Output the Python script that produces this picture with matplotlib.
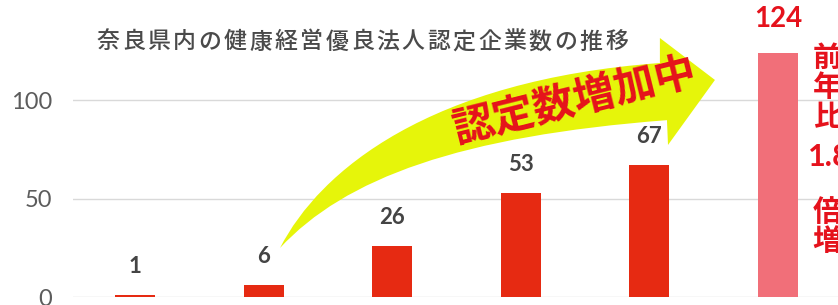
"""Nara prefecture: number of certified health-management companies."""

import numpy as np
import matplotlib.pyplot as plt
from matplotlib.patches import PathPatch
from matplotlib.path import Path

import matplotlib as mpl
mpl.use('Agg')

# =============================================================================
# Data
years = ["1", "2", "3", "4", "5", "6"]
counts = [1, 6, 26, 53, 67, 124]
bar_colors = ["#e62a12"] * 5 + ["#f16f79"]

title = "奈良県内の健康経営優良法人認定企業数の推移"
yticks = [0, 50, 100]

CJK = ['Noto Sans CJK JP', 'DejaVu Sans']
NUM = ['Lato', 'DejaVu Sans']
RED = "#e5121c"

# =============================================================================
fig = plt.figure(figsize=(8.38, 3.05), dpi=100)
ax = fig.add_axes([73 / 838, 8 / 305, 1 - 73 / 838, 297 / 305])

x = np.arange(len(counts))
bars = ax.bar(x, counts, width=0.31, color=bar_colors, zorder=3)

ax.set_xlim(-0.482, 5.467)
ax.set_ylim(0, 150.8)
ax.set_yticks(yticks)
ax.set_yticklabels([str(t) for t in yticks], family=NUM, fontsize=17,
                   fontweight='normal', color="#5c5c5c")
ax.tick_params(axis='y', length=0, pad=15)
ax.set_xticks([])
for s in ax.spines.values():
    s.set_visible(False)
ax.yaxis.grid(True, color="#d9d9d9", lw=1.0, zorder=1)
ax.set_axisbelow(True)

# value labels
for rect, v in zip(bars[:-1], counts[:-1]):
    ax.annotate(str(v), (rect.get_x() + rect.get_width() / 2, v),
                xytext=(0, 13), textcoords='offset points', ha='center',
                va='bottom', family=NUM, fontsize=16, fontweight='bold',
                color="#444444")
last = bars[-1]
ax.annotate(str(counts[-1]), (last.get_x() + last.get_width() / 2, counts[-1]),
            xytext=(0, 15), textcoords='offset points', ha='center',
            va='bottom', family=NUM, fontsize=20, fontweight='bold', color=RED)

# curved yellow arrow (bezier edges, in data units)
verts = [(1.128, 24.9), (1.439, 64.5), (2.294, 110.2), (4.082, 118.8),
         (4.082, 131.5), (4.510, 110.2), (4.145, 77.2), (4.137, 89.8),
         (2.527, 81.7), (1.633, 60.4), (1.128, 24.9), (1.128, 24.9)]
codes = [Path.MOVETO, Path.CURVE4, Path.CURVE4, Path.CURVE4,
         Path.LINETO, Path.LINETO, Path.LINETO, Path.LINETO,
         Path.CURVE4, Path.CURVE4, Path.CURVE4, Path.CLOSEPOLY]
ax.add_patch(PathPatch(Path(verts, codes), facecolor="#e6f50a",
                       edgecolor='none', zorder=2))
ax.text(3.42, 99.5, "認定数増加中", family=CJK, fontsize=30, fontweight='bold',
        color=RED, rotation=14, rotation_mode='anchor', ha='center',
        va='center', zorder=4)

# side note (cut off at the right edge as in the source)
ax.text(5.27, 129, "前\n年\n比", family=CJK, fontsize=21, fontweight='bold',
        color=RED, ha='left', va='top', linespacing=0.98, clip_on=False)
ax.text(5.23, 71, "1.8", family=NUM, fontsize=22, fontweight='bold',
        color=RED, ha='left', va='center', clip_on=False)
ax.text(5.27, 51, "倍\n増", family=CJK, fontsize=21, fontweight='bold',
        color=RED, ha='left', va='top', linespacing=0.98, clip_on=False)

# title, spaced one glyph at a time
for i, ch in enumerate(title):
    fig.text((97 + i * 25.4) / 838, 1 - 42 / 305, ch, family=CJK,
             fontsize=16.5, fontweight='medium', color="#4a4a4a",
             ha='left', va='center')

fig.savefig("out.png", dpi=100, facecolor='white')
